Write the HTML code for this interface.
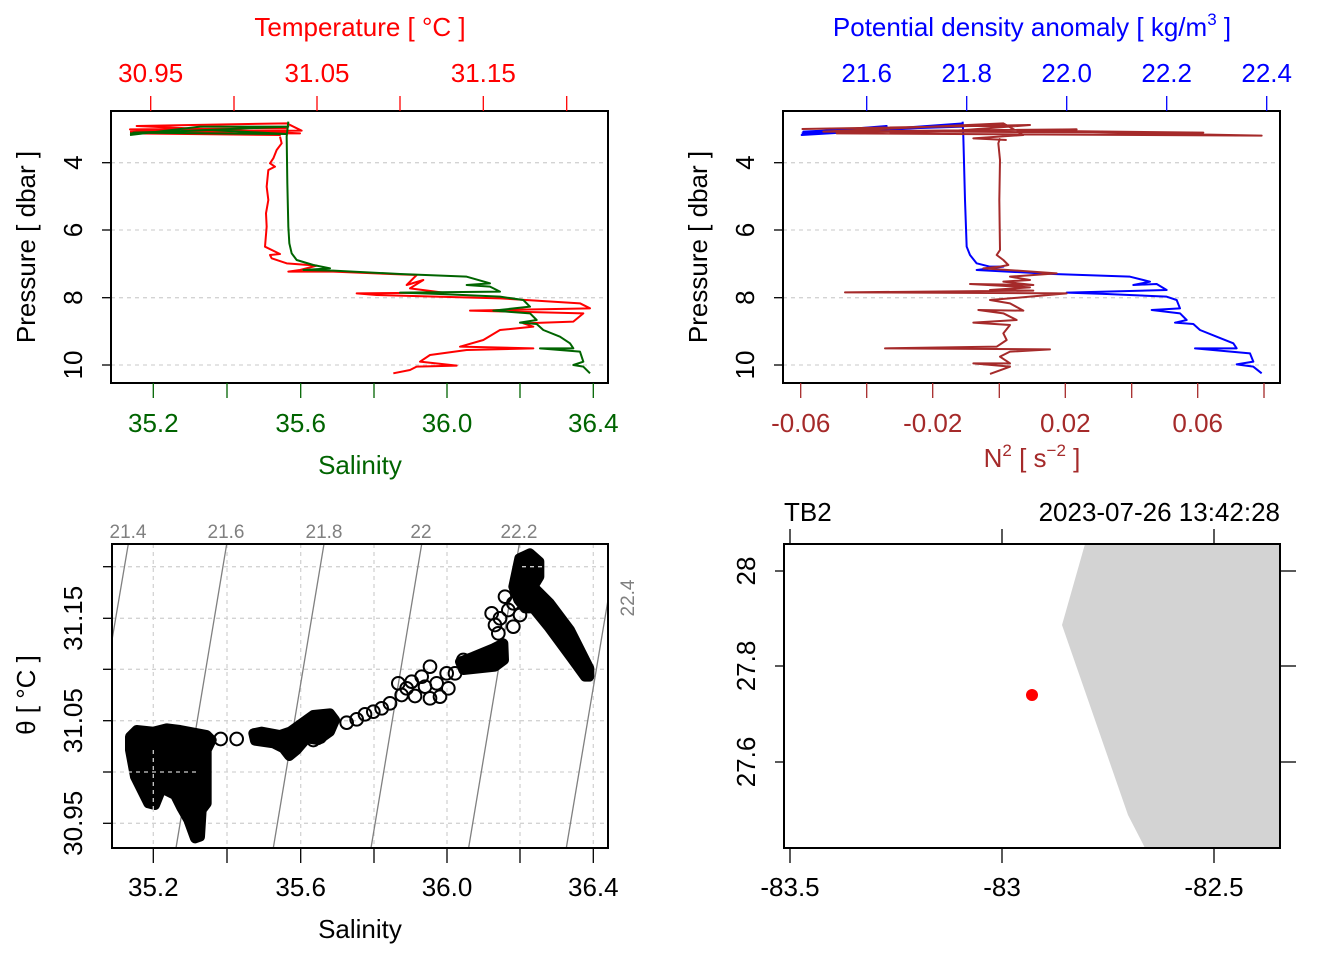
<!DOCTYPE html>
<html><head><meta charset="utf-8"><style>
html,body{margin:0;padding:0;background:#fff}
svg{display:block;font-family:"Liberation Sans",Arial,sans-serif}
</style></head><body>
<svg width="1344" height="960" viewBox="0 0 1344 960" xmlns="http://www.w3.org/2000/svg">
<rect width="1344" height="960" fill="#fff"/>

<!-- ===== Panel 1 ===== -->
<g stroke="#d3d3d3" stroke-width="1.3" stroke-dasharray="4,4">
<line x1="111" y1="162.7" x2="608" y2="162.7"/><line x1="111" y1="230" x2="608" y2="230"/>
<line x1="111" y1="297.7" x2="608" y2="297.7"/><line x1="111" y1="365" x2="608" y2="365"/>
</g>
<g transform="translate(100,100) scale(0.33333)" fill="none" stroke-width="6" stroke-linejoin="round">
<path stroke="#ff0000" d="M90,95 L605,92 L560,70 L110,78 L600,100 L95,100 L540,105 L90,88 L560,85 M540,110 L545,130 L530,150 L520,175 L510,190 L525,200 L505,210 L500,260 L505,300 L498,340 L500,380 L495,440 L540,462 L510,465 L515,475 L560,490 L650,497 L600,510 L565,515 L700,515 L950,525 L920,555 L970,540 L930,565 L1030,578 L770,580 L830,585 L1200,595 L1440,610 L1470,625 L1110,632 L1450,640 L1420,665 L1270,670 L1300,680 L1200,690 L1150,720 L1080,740 L1300,745 L1100,750 L990,765 L960,785 L1070,797 L950,800 L930,810 L880,820"/>
<path stroke="#006400" d="M90,105 L300,80 L565,80 L200,95 L100,98 L560,102 L330,90 L90,100 M565,65 L560,110 L562,250 L565,380 L568,430 L575,460 L590,480 L640,495 L690,505 L610,510 L700,512 L900,522 L1100,530 L1170,550 L1100,555 L1170,560 L1200,575 L900,578 L1020,582 L1200,590 L1270,600 L1290,620 L1180,632 L1290,640 L1310,660 L1260,668 L1310,672 L1330,690 L1380,710 L1410,730 L1420,745 L1320,745 L1440,755 L1450,785 L1420,795 L1450,800 L1470,820"/>
</g>
<rect x="111" y="111" width="497" height="272" fill="none" stroke="#000" stroke-width="2"/>
<g stroke="#ff0000" stroke-width="1.3">
<line x1="150.7" y1="96" x2="150.7" y2="111"/><line x1="234" y1="96" x2="234" y2="111"/><line x1="317" y1="96" x2="317" y2="111"/>
<line x1="400" y1="96" x2="400" y2="111"/><line x1="483.3" y1="96" x2="483.3" y2="111"/><line x1="566.7" y1="96" x2="566.7" y2="111"/>
</g>
<g stroke="#006400" stroke-width="1.3">
<line x1="153.3" y1="383" x2="153.3" y2="398"/><line x1="227" y1="383" x2="227" y2="398"/><line x1="300.7" y1="383" x2="300.7" y2="398"/>
<line x1="374" y1="383" x2="374" y2="398"/><line x1="447" y1="383" x2="447" y2="398"/><line x1="520" y1="383" x2="520" y2="398"/><line x1="593.3" y1="383" x2="593.3" y2="398"/>
</g>
<g stroke="#000" stroke-width="1.3">
<line x1="102" y1="162.7" x2="111" y2="162.7"/><line x1="102" y1="230" x2="111" y2="230"/><line x1="102" y1="297.7" x2="111" y2="297.7"/><line x1="102" y1="365" x2="111" y2="365"/>
</g>
<g font-size="26" fill="#ff0000" text-anchor="middle">
<text x="360" y="36">Temperature [ °C ]</text>
<text x="150.7" y="82">30.95</text><text x="317" y="82">31.05</text><text x="483.3" y="82">31.15</text>
</g>
<g font-size="26" fill="#006400" text-anchor="middle">
<text x="153.3" y="432">35.2</text><text x="300.7" y="432">35.6</text><text x="447" y="432">36.0</text><text x="593.3" y="432">36.4</text>
<text x="360" y="474">Salinity</text>
</g>
<g font-size="26" fill="#000" text-anchor="middle">
<text transform="translate(35,247) rotate(-90)">Pressure [ dbar ]</text>
<text transform="translate(82,162.7) rotate(-90)">4</text>
<text transform="translate(82,230) rotate(-90)">6</text>
<text transform="translate(82,297.7) rotate(-90)">8</text>
<text transform="translate(82,365) rotate(-90)">10</text>
</g>

<!-- ===== Panel 2 ===== -->
<g stroke="#d3d3d3" stroke-width="1.3" stroke-dasharray="4,4">
<line x1="783" y1="162.7" x2="1280" y2="162.7"/><line x1="783" y1="230" x2="1280" y2="230"/>
<line x1="783" y1="297.7" x2="1280" y2="297.7"/><line x1="783" y1="365" x2="1280" y2="365"/>
</g>
<g transform="translate(770,100) scale(0.33333)" fill="none" stroke-width="6" stroke-linejoin="round">
<path stroke="#0000ff" d="M95,100 L350,78 L200,90 L100,95 L580,80 L480,82 L95,105 L580,70 M578,65 L580,110 L585,300 L590,440 L600,465 L620,490 L660,500 L700,500 L620,510 L850,522 L1080,530 L1140,545 L1090,555 L1160,552 L1190,570 L890,578 L1010,582 L1190,590 L1220,600 L1230,625 L1145,630 L1230,640 L1250,660 L1215,668 L1270,672 L1290,690 L1340,710 L1390,730 L1400,745 L1275,745 L1440,760 L1450,785 L1400,793 L1450,800 L1475,820"/>
<path stroke="#a52a2a" d="M95,87 L780,75 L520,95 L1300,98 L600,90 L1475,107 L200,100 L920,88 L160,95 L700,70 L760,105 L610,115 L710,120 M690,115 L685,130 L690,180 L688,300 L690,450 L680,465 L700,480 L715,495 L690,500 L640,505 L860,520 L720,530 L780,540 L700,545 L790,555 L600,552 L780,562 L660,570 L790,572 L225,577 L890,580 L780,590 L660,600 L720,610 L760,632 L625,630 L700,640 L740,660 L610,668 L720,675 L700,700 L710,720 L680,740 L345,745 L840,748 L720,755 L690,770 L720,790 L610,790 L720,800 L660,822"/>
</g>
<rect x="783" y="111" width="497" height="272" fill="none" stroke="#000" stroke-width="2"/>
<g stroke="#0000ff" stroke-width="1.3">
<line x1="866.7" y1="96" x2="866.7" y2="111"/><line x1="966.7" y1="96" x2="966.7" y2="111"/><line x1="1066.7" y1="96" x2="1066.7" y2="111"/><line x1="1166.7" y1="96" x2="1166.7" y2="111"/><line x1="1266.7" y1="96" x2="1266.7" y2="111"/>
</g>
<g stroke="#a52a2a" stroke-width="1.3">
<line x1="800.7" y1="383" x2="800.7" y2="398"/><line x1="866.7" y1="383" x2="866.7" y2="398"/><line x1="932.7" y1="383" x2="932.7" y2="398"/><line x1="999.3" y1="383" x2="999.3" y2="398"/>
<line x1="1065.3" y1="383" x2="1065.3" y2="398"/><line x1="1131.7" y1="383" x2="1131.7" y2="398"/><line x1="1197.7" y1="383" x2="1197.7" y2="398"/><line x1="1264" y1="383" x2="1264" y2="398"/>
</g>
<g stroke="#000" stroke-width="1.3">
<line x1="774" y1="162.7" x2="783" y2="162.7"/><line x1="774" y1="230" x2="783" y2="230"/><line x1="774" y1="297.7" x2="783" y2="297.7"/><line x1="774" y1="365" x2="783" y2="365"/>
</g>
<g font-size="26" fill="#0000ff" text-anchor="middle">
<text x="1032" y="36">Potential density anomaly [ kg/m<tspan font-size="17" dy="-11">3</tspan><tspan dy="11"> ]</tspan></text>
<text x="866.7" y="82">21.6</text><text x="966.7" y="82">21.8</text><text x="1066.7" y="82">22.0</text><text x="1166.7" y="82">22.2</text><text x="1266.7" y="82">22.4</text>
</g>
<g font-size="26" fill="#a52a2a" text-anchor="middle">
<text x="800.7" y="432">-0.06</text><text x="932.7" y="432">-0.02</text><text x="1065.3" y="432">0.02</text><text x="1197.7" y="432">0.06</text>
<text x="1032" y="467">N<tspan font-size="17" dy="-11">2</tspan><tspan dy="11"> [ s</tspan><tspan font-size="17" dy="-11">−2</tspan><tspan dy="11"> ]</tspan></text>
</g>
<g font-size="26" fill="#000" text-anchor="middle">
<text transform="translate(707,247) rotate(-90)">Pressure [ dbar ]</text>
<text transform="translate(754,162.7) rotate(-90)">4</text>
<text transform="translate(754,230) rotate(-90)">6</text>
<text transform="translate(754,297.7) rotate(-90)">8</text>
<text transform="translate(754,365) rotate(-90)">10</text>
</g>

<!-- ===== Panel 3 ===== -->
<g stroke="#d3d3d3" stroke-width="1.3" stroke-dasharray="4,4">
<line x1="153.3" y1="544" x2="153.3" y2="848"/><line x1="227" y1="544" x2="227" y2="848"/><line x1="300.7" y1="544" x2="300.7" y2="848"/>
<line x1="374" y1="544" x2="374" y2="848"/><line x1="447" y1="544" x2="447" y2="848"/><line x1="520" y1="544" x2="520" y2="848"/><line x1="593.3" y1="544" x2="593.3" y2="848"/>
<line x1="112" y1="566.7" x2="608" y2="566.7"/><line x1="112" y1="618.3" x2="608" y2="618.3"/><line x1="112" y1="669.3" x2="608" y2="669.3"/>
<line x1="112" y1="720.7" x2="608" y2="720.7"/><line x1="112" y1="772" x2="608" y2="772"/><line x1="112" y1="823.3" x2="608" y2="823.3"/>
</g>
<g stroke="#808080" stroke-width="1.3">
<line x1="128.3" y1="544" x2="112" y2="640"/>
<line x1="226.7" y1="544" x2="176" y2="848"/>
<line x1="324" y1="544" x2="273.3" y2="848"/>
<line x1="421.7" y1="544" x2="371" y2="848"/>
<line x1="519.3" y1="544" x2="468.6" y2="848"/>
<line x1="608" y1="600" x2="566.3" y2="848"/>
</g>
<g transform="translate(100,520) scale(0.33333)" fill="#000" stroke="#000" stroke-width="30" stroke-linejoin="round">
<path d="M90,650 L110,630 L160,635 L200,625 L240,630 L320,645 L335,660 L320,690 L320,850 L305,870 L300,950 L285,955 L265,900 L245,865 L225,825 L185,805 L165,855 L145,850 L105,770 L90,690 Z"/>
<path d="M460,640 L485,635 L540,645 L570,635 L640,585 L690,580 L705,600 L690,635 L655,660 L620,655 L590,690 L568,708 L550,685 L520,670 L465,662 Z"/>
<path d="M1180,385 L1210,370 L1212,420 L1185,440 L1090,450 L1080,425 L1120,410 Z"/>
<path d="M1240,200 L1258,115 L1290,100 L1318,125 L1318,170 L1300,200 L1350,250 L1410,330 L1468,445 L1468,470 L1455,470 L1415,415 L1345,320 L1300,265 L1275,265 L1255,240 Z"/>
<g fill="none" stroke-width="6">
<circle cx="362" cy="657" r="19"/><circle cx="410" cy="657" r="19"/><circle cx="740" cy="608" r="19"/><circle cx="770" cy="598" r="19"/>
<circle cx="795" cy="583" r="19"/><circle cx="820" cy="575" r="19"/><circle cx="845" cy="565" r="19"/><circle cx="870" cy="550" r="19"/>
<circle cx="895" cy="490" r="19"/><circle cx="905" cy="525" r="19"/><circle cx="935" cy="485" r="19"/><circle cx="945" cy="528" r="19"/>
<circle cx="965" cy="470" r="19"/><circle cx="990" cy="440" r="19"/><circle cx="990" cy="535" r="19"/><circle cx="1010" cy="490" r="19"/>
<circle cx="1020" cy="530" r="19"/><circle cx="1040" cy="460" r="19"/><circle cx="1045" cy="505" r="19"/><circle cx="1065" cy="460" r="19"/>
<circle cx="975" cy="500" r="19"/><circle cx="920" cy="505" r="19"/><circle cx="1090" cy="420" r="19"/>
<circle cx="1175" cy="280" r="19"/><circle cx="1185" cy="315" r="19"/><circle cx="1200" cy="295" r="19"/><circle cx="1215" cy="230" r="19"/>
<circle cx="1225" cy="270" r="19"/><circle cx="1240" cy="320" r="19"/><circle cx="1260" cy="285" r="19"/><circle cx="1195" cy="340" r="19"/>
<circle cx="1240" cy="250" r="19"/><circle cx="640" cy="660" r="19"/><circle cx="660" cy="650" r="19"/>
</g>
</g>
<g stroke="#fff" stroke-width="1.3" stroke-dasharray="4,4" opacity="0.8">
<line x1="153.3" y1="750" x2="153.3" y2="810"/><line x1="128" y1="772" x2="200" y2="772"/>
<line x1="522" y1="566.7" x2="542" y2="566.7"/>
</g>
<rect x="112" y="544" width="496" height="304" fill="none" stroke="#000" stroke-width="2"/>
<g stroke="#000" stroke-width="1.3">
<line x1="153.3" y1="848" x2="153.3" y2="863"/><line x1="227" y1="848" x2="227" y2="863"/><line x1="300.7" y1="848" x2="300.7" y2="863"/>
<line x1="374" y1="848" x2="374" y2="863"/><line x1="447" y1="848" x2="447" y2="863"/><line x1="520" y1="848" x2="520" y2="863"/><line x1="593.3" y1="848" x2="593.3" y2="863"/>
<line x1="103" y1="566.7" x2="112" y2="566.7"/><line x1="103" y1="618.3" x2="112" y2="618.3"/><line x1="103" y1="669.3" x2="112" y2="669.3"/>
<line x1="103" y1="720.7" x2="112" y2="720.7"/><line x1="103" y1="772" x2="112" y2="772"/><line x1="103" y1="823.3" x2="112" y2="823.3"/>
</g>
<g font-size="19" fill="#808080" text-anchor="middle">
<text x="128" y="538">21.4</text><text x="226" y="538">21.6</text><text x="324" y="538">21.8</text><text x="421" y="538">22</text><text x="519" y="538">22.2</text>
<text transform="translate(634,598) rotate(-90)">22.4</text>
</g>
<g font-size="26" fill="#000" text-anchor="middle">
<text x="153.3" y="896">35.2</text><text x="300.7" y="896">35.6</text><text x="447" y="896">36.0</text><text x="593.3" y="896">36.4</text>
<text x="360" y="938">Salinity</text>
<text transform="translate(35,695) rotate(-90)">θ [ °C ]</text>
<text transform="translate(82,618.3) rotate(-90)">31.15</text>
<text transform="translate(82,720.7) rotate(-90)">31.05</text>
<text transform="translate(82,823.3) rotate(-90)">30.95</text>
</g>

<!-- ===== Panel 4 ===== -->
<polygon points="1085,544 1280,544 1280,848 1145,848 1128,815 1062,625" fill="#d3d3d3"/>
<circle cx="1032" cy="695" r="6" fill="#ff0000"/>
<rect x="784" y="544" width="496" height="304" fill="none" stroke="#000" stroke-width="2"/>
<g stroke="#000" stroke-width="1.3">
<line x1="790" y1="848" x2="790" y2="863"/><line x1="1002" y1="848" x2="1002" y2="863"/><line x1="1214" y1="848" x2="1214" y2="863"/>
<line x1="790" y1="529" x2="790" y2="544"/><line x1="1002" y1="529" x2="1002" y2="544"/><line x1="1214" y1="529" x2="1214" y2="544"/>
<line x1="775" y1="571" x2="784" y2="571"/><line x1="775" y1="666" x2="784" y2="666"/><line x1="775" y1="762" x2="784" y2="762"/>
<line x1="1280" y1="571" x2="1296" y2="571"/><line x1="1280" y1="666" x2="1296" y2="666"/><line x1="1280" y1="762" x2="1296" y2="762"/>
</g>
<g font-size="26" fill="#000">
<text x="784" y="521">TB2</text>
<text x="1280" y="521" text-anchor="end">2023-07-26 13:42:28</text>
<g text-anchor="middle">
<text x="790" y="896">-83.5</text><text x="1002" y="896">-83</text><text x="1214" y="896">-82.5</text>
<text transform="translate(755,571) rotate(-90)">28</text>
<text transform="translate(755,666) rotate(-90)">27.8</text>
<text transform="translate(755,762) rotate(-90)">27.6</text>
</g>
</g>
</svg>
</body></html>
